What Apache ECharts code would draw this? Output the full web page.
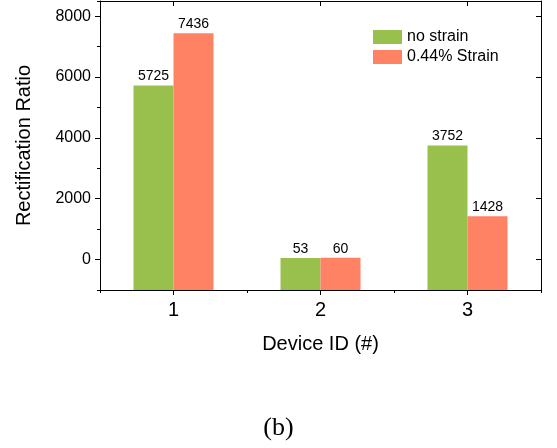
<!DOCTYPE html>
<html>
<head>
<meta charset="utf-8">
<script src="https://cdn.jsdelivr.net/npm/echarts@6/dist/echarts.min.js"></script>
<style>
  html, body { margin: 0; padding: 0; background: #fff; }
  #chart { width: 557px; height: 448px; }
</style>
</head>
<body>
<div id="chart"></div>
<script>
const categories = ['1', '2', '3'];
const noStrain = [5725, 53, 3752];
const strain044 = [7436, 60, 1428];
const yMajorTicks = [0, 2000, 4000, 6000, 8000];
const seriesNames = ['no strain', '0.44% Strain'];

const FONT = 'Liberation Sans, Arial, sans-serif';
const chart = echarts.init(document.getElementById('chart'), null, { renderer: 'canvas' });

const yMin = -1000, yMax = 8500;
const gridBox = { left: 100, right: 16, top: 1, bottom: 158, containLabel: false };
const black = { color: '#000', width: 1 };

chart.setOption({
  animation: false,
  backgroundColor: '#fff',
  title: {
    text: '(b)',
    left: 'center',
    top: 410,
    textStyle: { fontFamily: 'Liberation Serif, serif', fontWeight: 'normal', fontSize: 26, color: '#000' }
  },
  legend: {
    orient: 'vertical',
    left: 373,
    top: 29,
    padding: 0,
    itemWidth: 29,
    itemHeight: 14,
    itemGap: 4,
    icon: 'rect',
    textStyle: { fontFamily: FONT, fontSize: 16, color: '#000' },
    data: seriesNames
  },
  grid: [Object.assign({}, gridBox), Object.assign({}, gridBox)],
  xAxis: [
    {
      gridIndex: 0, type: 'category', data: categories, position: 'bottom',
      axisLine: { show: true, onZero: false, lineStyle: black },
      axisTick: { show: true, alignWithLabel: true, length: 5, lineStyle: black },
      axisLabel: { fontFamily: FONT, fontSize: 20, color: '#000', margin: 10 },
      name: 'Device ID (#)', nameLocation: 'middle', nameGap: 44,
      nameTextStyle: { fontFamily: FONT, fontSize: 20, color: '#000' }
    },
    {
      gridIndex: 0, type: 'category', data: categories, position: 'top',
      axisLine: { show: true, onZero: false, lineStyle: black },
      axisTick: { show: true, alignWithLabel: true, inside: true, length: 5, lineStyle: black },
      axisLabel: { show: false }
    },
    {
      gridIndex: 1, type: 'category', data: categories, position: 'bottom',
      axisLine: { show: false, onZero: false },
      axisTick: { show: true, alignWithLabel: false, length: 3, lineStyle: black },
      axisLabel: { show: false }
    }
  ],
  yAxis: [
    {
      gridIndex: 0, type: 'value', min: yMin, max: yMax, interval: 1000, position: 'left', startValue: yMin,
      splitLine: { show: false },
      axisLine: { show: true, onZero: false, lineStyle: black },
      axisTick: { show: true, length: 5, customValues: yMajorTicks, lineStyle: black },
      axisLabel: { customValues: yMajorTicks, formatter: (v) => String(v), fontFamily: FONT, fontSize: 16, color: '#000', margin: 9 },
      name: 'Rectification Ratio', nameLocation: 'middle', nameGap: 66, nameRotate: 90,
      nameTextStyle: { fontFamily: FONT, fontSize: 20, color: '#000' }
    },
    {
      gridIndex: 0, type: 'value', min: yMin, max: yMax, interval: 1000, position: 'right',
      splitLine: { show: false },
      axisLine: { show: true, onZero: false, lineStyle: black },
      axisTick: { show: true, inside: true, length: 5, customValues: yMajorTicks, lineStyle: black },
      axisLabel: { show: false }
    },
    {
      gridIndex: 1, type: 'value', min: yMin, max: yMax, interval: 1000, position: 'left',
      splitLine: { show: false },
      axisLine: { show: false, onZero: false },
      axisTick: { show: true, length: 3, lineStyle: black },
      axisLabel: { show: false }
    }
  ],
  series: [
    {
      name: seriesNames[0], type: 'bar', data: noStrain, barWidth: 40, barGap: '0%',
      xAxisIndex: 0, yAxisIndex: 0,
      itemStyle: { color: '#99BF4D' },
      label: { show: true, position: 'top', distance: 2, fontFamily: FONT, fontSize: 14, color: '#000' }
    },
    {
      name: seriesNames[1], type: 'bar', data: strain044, barWidth: 40, barGap: '0%',
      xAxisIndex: 0, yAxisIndex: 0,
      itemStyle: { color: '#FF8264' },
      label: { show: true, position: 'top', distance: 2, fontFamily: FONT, fontSize: 14, color: '#000' }
    }
  ]
});
</script>
</body>
</html>
